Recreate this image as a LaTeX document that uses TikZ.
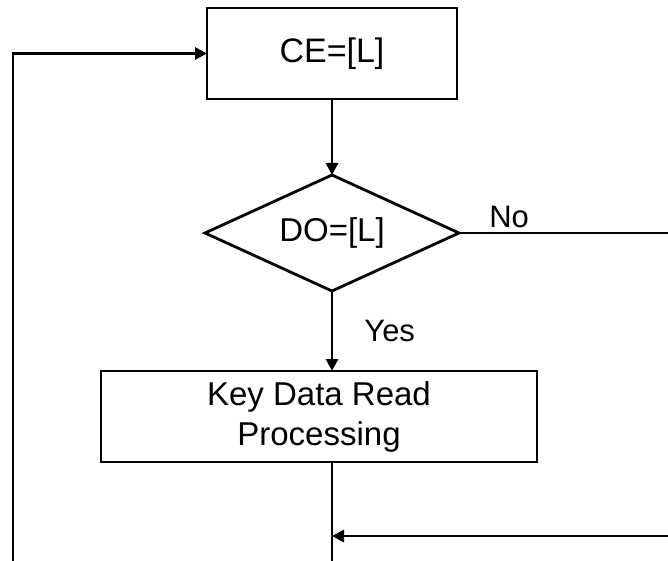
\documentclass[tikz,border=0pt]{standalone}
\usepackage{fontspec}
\setmainfont{Liberation Sans}
\usetikzlibrary{positioning,shapes.geometric,arrows.meta}

\tikzset{
  procbox/.style={draw, rectangle, outer sep=0pt, minimum height=91pt, align=center},
  decision/.style={draw, diamond, aspect=2, outer sep=0pt, inner sep=0pt, minimum width=254pt,
    minimum height=116pt, font=\fontsize{33}{38}\selectfont},
  flowlabel/.style={inner sep=0pt, font=\fontsize{31}{36}\selectfont}
}

\begin{document}
\begin{tikzpicture}[x=1pt, y=-1pt, >={Triangle[length=12pt,width=12pt]}, line width=2.8pt]
    \useasboundingbox (0,0) rectangle (668,561);

    % Boxes and decision
    \node (ce) [procbox, minimum width=250pt, font=\fontsize{34}{40}\selectfont] at (332,53.5) {CE=[L]};
    \node (do) [decision, below=76pt of ce] {DO=[L]};
    \node (kd) [procbox, minimum width=436pt, below=80pt of do, xshift=-13pt,
      font=\fontsize{33}{40}\selectfont] {Key Data Read\\Processing};

    % Loose ends at the picture edges
    \coordinate (rim) at (668,0);
    \coordinate (loop) at (13,561);
    \coordinate (back) at (668,536);
    \coordinate (down) at (332,561);

    % Connectors
    \draw[->] (ce) -- (do);
    \draw[->] (do) -- node[flowlabel, right, xshift=31pt] {Yes} (kd.north -| do);
    \draw (do.east) -- node[flowlabel, above, pos=0.24, yshift=4pt] {No} (do.east -| rim);
    \draw (kd.south -| do) -- (down);
    \draw[->] (back) -- (back -| do);
    \draw[->] (loop) |- (ce.west);

\end{tikzpicture}
\end{document}
